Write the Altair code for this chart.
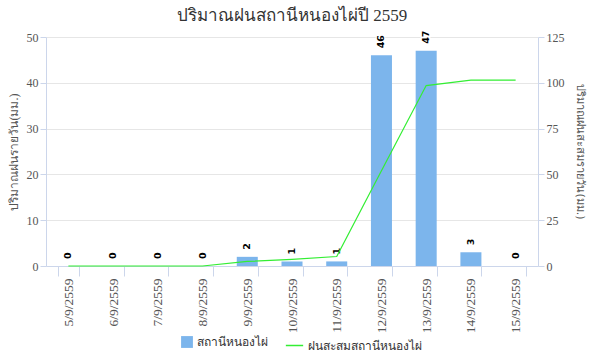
import altair as alt
import pandas as pd

dates = ["5/9/2559", "6/9/2559", "7/9/2559", "8/9/2559", "9/9/2559", "10/9/2559",
         "11/9/2559", "12/9/2559", "13/9/2559", "14/9/2559", "15/9/2559"]
daily = [0, 0, 0, 0, 2, 1, 1, 46, 47, 3, 0]
cumulative = [0, 0, 0, 0, 2.5, 3.6, 5.2, 52, 98.5, 101.5, 101.5]

bar_name = "สถานีหนองไผ่"
line_name = "ฝนสะสมสถานีหนองไผ่"

df = pd.DataFrame({"date": dates, "daily": daily, "cum": cumulative})

SERIF = "Liberation Serif"
SANS = "DejaVu Sans"

x = alt.X("date:N", sort=dates, title=None,
          scale=alt.Scale(paddingInner=0.53, paddingOuter=0.265),
          axis=alt.Axis(labelAngle=-90, labelFont=SERIF, labelFontSize=13.5,
                        labelColor="#555", tickBand="extent", tickColor="#ccd6eb",
                        tickSize=10, domainColor="#ccd6eb", labelPadding=2))

y_left = alt.Y("daily:Q", title="ปริมาณฝนรายวัน(มม.)",
               scale=alt.Scale(domain=[0, 50]),
               axis=alt.Axis(values=[0, 10, 20, 30, 40, 50], grid=True, gridColor="#e6e6e6",
                             domain=True, domainColor="#ccd6eb", tickColor="#ccd6eb",
                             tickSize=6, labelFont=SERIF, labelFontSize=12,
                             labelColor="#555", titleFont=SERIF, titleFontSize=12,
                             titleFontWeight="normal", titleColor="#555", titlePadding=6))

bars = alt.Chart(df).mark_bar(color="#7cb5ec").encode(
    x=x, y=y_left,
    fill=alt.Fill("s:N", scale=alt.Scale(domain=[bar_name], range=["#7cb5ec"]),
                  legend=alt.Legend(title=None, orient="none", legendX=133, legendY=297,
                                    symbolType="square",
                                    symbolSize=140, labelFont=SANS, labelFontSize=12,
                                    labelColor="#333", symbolStrokeWidth=0))
).transform_calculate(s=f"'{bar_name}'")

lab_outline = alt.Chart(df).mark_text(
    angle=270, align="left", baseline="middle", dx=7, fontSize=9.5, fontWeight="bold",
    font=SANS, stroke="white", strokeWidth=2.5, color="white"
).encode(x=alt.X("date:N", sort=dates), y=alt.Y("daily:Q"), text="daily:Q")

labels = alt.Chart(df).mark_text(
    angle=270, align="left", baseline="middle", dx=7, fontSize=9.5, fontWeight="bold",
    font=SANS, color="#000"
).encode(x=alt.X("date:N", sort=dates), y=alt.Y("daily:Q"), text="daily:Q")

left = alt.layer(bars, lab_outline, labels)

line = alt.Chart(df).mark_line(strokeWidth=1.2).encode(
    x=alt.X("date:N", sort=dates),
    y=alt.Y("cum:Q", title="ปริมาณฝนสะสมรายวัน(มม.)",
            scale=alt.Scale(domain=[0, 125]),
            axis=alt.Axis(orient="right", values=[0, 25, 50, 75, 100, 125], grid=False,
                          domain=True, domainColor="#ccd6eb", tickColor="#ccd6eb",
                          tickSize=6, labelFont=SERIF, labelFontSize=12, labelColor="#555",
                          titleFont=SANS, titleFontSize=11, titleFontWeight="normal",
                          titleColor="#555", titleAngle=90, titlePadding=10)),
    stroke=alt.Stroke("s:N", scale=alt.Scale(domain=[line_name], range=["#33ee33"]),
                      legend=alt.Legend(title=None, orient="none", legendX=237, legendY=297,
                                        symbolType="stroke",
                                        symbolSize=300, symbolStrokeWidth=1.5,
                                        labelFont=SANS, labelFontSize=12, labelColor="#333"))
).transform_calculate(s=f"'{line_name}'")

chart = alt.layer(left, line).resolve_scale(y="independent", fill="independent",
                                             stroke="independent").properties(
    width=492, height=229,
    title=alt.Title("ปริมาณฝนสถานีหนองไผ่ปี 2559", font=SERIF, fontSize=17,
                    fontWeight="normal", color="#333", offset=6),
    autosize=alt.AutoSizeParams(type="none"),
    padding={"left": 46, "top": 37, "right": 55, "bottom": 87},
).configure_view(stroke=None).configure_legend(padding=2)

chart.save("out.html", embed_options={"renderer": "svg", "actions": False})
